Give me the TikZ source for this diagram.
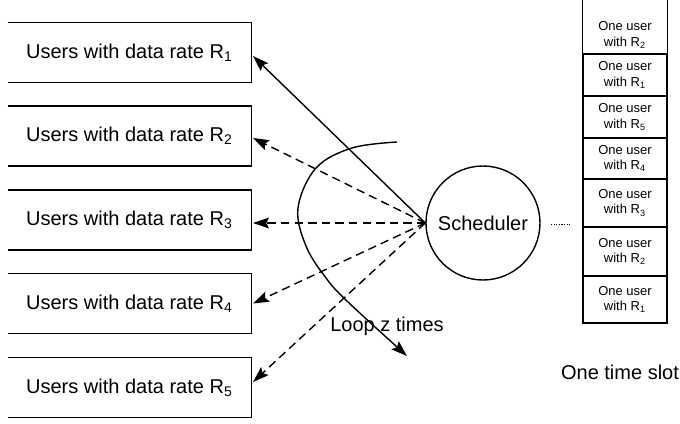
\documentclass[tikz,border=0pt]{standalone}
\usepackage{fontspec}
\setmainfont{Liberation Sans}
\usetikzlibrary{arrows.meta}

\tikzset{
  every picture/.style={x=0.5pt, y=-0.5pt},
  line/.style={line width=0.7pt},
  tip/.style={-{Stealth[length=8pt,width=5.4pt,inset=1.4pt]}},
  dashline/.style={line, tip, dash pattern=on 4.2pt off 2.6pt},
  ratebox/.style={minimum width=121.5pt, minimum height=29.5pt, inner sep=0pt,
                  font=\fontsize{10}{12}\selectfont},
  slotcell/.style={draw, line, minimum width=42pt, inner sep=0pt, align=center,
                   font=\fontsize{6.5}{7.6}\selectfont},
  label/.style={inner sep=0pt, font=\fontsize{10}{12}\selectfont},
}

\begin{document}
\begin{tikzpicture}
\useasboundingbox (0,0) rectangle (680,423);

% user groups (open on the left)
\node[ratebox] (r1) at (129.5,52.5)  {Users with data rate R\textsubscript{1}};
\node[ratebox] (r2) at (129.5,136)   {Users with data rate R\textsubscript{2}};
\node[ratebox] (r3) at (129.5,220)   {Users with data rate R\textsubscript{3}};
\node[ratebox] (r4) at (129.5,303.5) {Users with data rate R\textsubscript{4}};
\node[ratebox] (r5) at (129.5,387.5) {Users with data rate R\textsubscript{5}};
\foreach \b in {r1,r2,r3,r4,r5}
  \draw[line] (\b.north west) -- (\b.north east) -- (\b.south east) -- (\b.south west);

% scheduler
\node[draw, line, circle, minimum size=57pt, inner sep=0pt,
      font=\fontsize{10}{12}\selectfont] (sched) at (483,223) {Scheduler};

% scheduler to the user groups
\draw[line, tip] (sched.west) -- ([xshift=0.8pt, yshift=-1.75pt]r1.east);
\draw[dashline] (sched.west) -- ([xshift=0.8pt, yshift=-1pt]r2.east);
\draw[dashline] (sched.west) -- ([xshift=0.8pt, yshift=-1.5pt]r3.east);
\draw[dashline] (sched.west) -- ([xshift=0.8pt]r4.east);
\draw[dashline] (sched.west) -- ([xshift=0.8pt, yshift=2.75pt]r5.east);

% loop arrow
\coordinate (loopstart) at (397,142);
\coordinate (loopend) at (407,356);
\draw[line, tip] plot[smooth, tension=0.6] coordinates
  {(loopstart) (352,148) (316,168) (298,208) (306,246) (326,278) (348,302) (loopend)};
\node[label] (loop) at (387,326) {Loop z times};

% time slot column
\coordinate (top) at (0,0);
\node[slotcell, draw=none, minimum height=19pt] (c1) at (625,35)    {One user\\with R\textsubscript{2}};
\node[slotcell, minimum height=21pt]   (c2) at (625,75)    {One user\\with R\textsubscript{1}};
\node[slotcell, minimum height=21pt]   (c3) at (625,117)   {One user\\with R\textsubscript{5}};
\node[slotcell, minimum height=20.5pt] (c4) at (625,158.5) {One user\\with R\textsubscript{4}};
\node[slotcell, minimum height=24pt]   (c5) at (625,203)   {One user\\with R\textsubscript{3}};
\node[slotcell, minimum height=24.5pt] (c6) at (625,251.5) {One user\\with R\textsubscript{2}};
\node[slotcell, minimum height=23.5pt] (c7) at (625,299.5) {One user\\with R\textsubscript{1}};
\draw[line] (c1.west |- top) -- (c1.south west) -- (c1.south east) -- (c1.east |- top);

% scheduler feeds the slot
\coordinate (d1) at (551,224);
\coordinate (d2) at (571,224);
\draw[line width=0.5pt, dash pattern=on 0.6pt off 0.7pt] (d1) -- (d2);

\node[label] (slot) at (620,372) {One time slot};
\end{tikzpicture}
\end{document}
